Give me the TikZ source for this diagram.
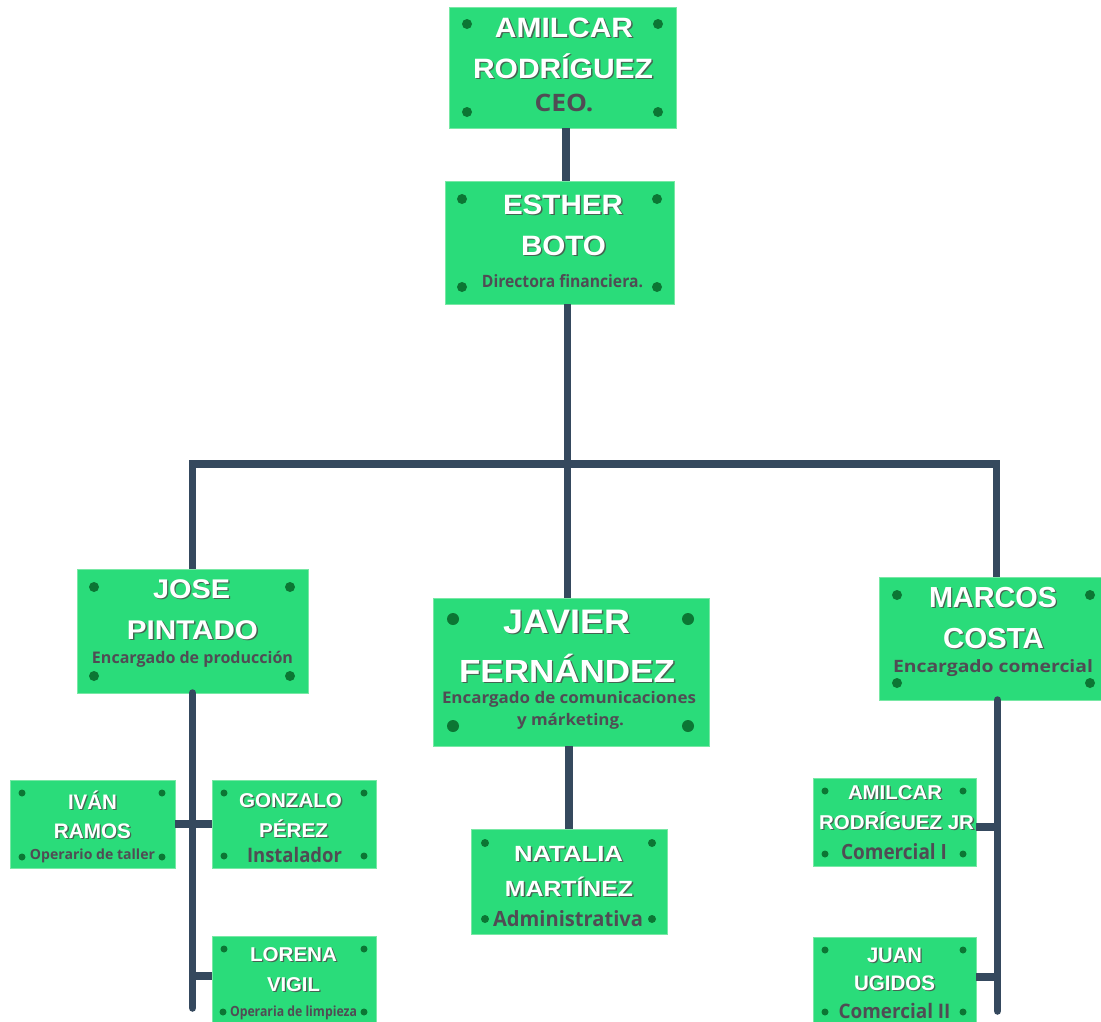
\documentclass[tikz,border=0pt]{standalone}
\usepackage{fontspec}
\usepackage{graphicx}
\newfontfamily\namefont{Liberation Sans}
\newfontfamily\subfont{Open Sans}
\definecolor{cardfill}{RGB}{42,220,122}
\definecolor{cardedge}{RGB}{120,232,165}
\definecolor{dotc}{RGB}{12,118,52}
\definecolor{subc}{RGB}{80,76,84}
\definecolor{shadowc}{RGB}{70,100,82}
\definecolor{connc}{RGB}{53,73,94}
\newcommand\txtshadow[1]{\rlap{\kern1.3pt\raisebox{-1.3pt}{\textcolor{shadowc}{#1}}}#1}
% name line: node name, x, baseline y, font size, width, text
\newcommand\nameline[6]{\node[namet, font=\namefont\bfseries\fontsize{#4}{#4}\selectfont] (#1) at (#2,#3) {\resizebox{#5pt}{\height}{\txtshadow{#6}}};}
\newcommand\subline[6]{\node[subt, font=\subfont\bfseries\fontsize{#4}{#4}\selectfont] (#1) at (#2,#3) {\resizebox{#5pt}{\height}{#6}};}
\newcommand\card[5]{\node[card, minimum width=#4pt, minimum height=#5pt] (#1) at (#2,#3) {};}
\newcommand\cornerdots[5]{\fill[dotc] (#1) circle (#5pt) (#2) circle (#5pt) (#3) circle (#5pt) (#4) circle (#5pt);}
\tikzset{
  card/.style={draw=cardedge, line width=1pt, fill=cardfill, anchor=north west, inner sep=0pt, outer sep=0pt},
  namet/.style={text=white, anchor=base, inner sep=0pt},
  subt/.style={text=subc, anchor=base, inner sep=0pt},
  conn/.style={draw=connc, line width=7.5pt, line join=miter}
}
\begin{document}
\begin{tikzpicture}[x=1pt,y=-1pt]
\useasboundingbox (0,0) rectangle (1101,1021);
\clip (0,0) rectangle (1101,1021);
\fill[white] (0,0) rectangle (1101,1021);

% column coordinates
\coordinate (c1) at (566,0);
\coordinate (cm) at (567.5,0);
\coordinate (bar) at (567.5,464);
\coordinate (barL) at (192.5,464);
\coordinate (barR) at (996.5,464);
\coordinate (jl) at (192.5,0);
\coordinate (jend) at (192.5,1008);
\coordinate (cj) at (569,0);
\coordinate (mr) at (997.5,0);
\coordinate (mend) at (997.5,1011);
\coordinate (s1) at (0,824);
\coordinate (s2) at (0,976);
\coordinate (s3) at (0,827);
\coordinate (s4) at (0,977);

% cards
\card{ceo}{449}{7}{227}{121}
\card{esther}{445}{181}{229}{123}
\card{jose}{77}{569}{231}{124}
\card{javier}{433}{598}{276}{148}
\card{marcos}{879}{577}{232}{123}
\card{ivan}{10}{780}{165}{88}
\card{gonzalo}{212}{780}{164}{88}
\card{lorena}{212}{936}{164}{100}
\card{natalia}{471}{829}{196}{105}
\card{jr}{813}{778}{163}{88}
\card{juan}{813}{937}{163}{100}

% connectors
\draw[conn] (ceo.south -| c1) -- (esther.north -| c1);
\draw[conn] (esther.south -| cm) -- (javier.north -| cm);
\draw[conn] (bar) -- (barL) -- (jose.north -| barL);
\draw[conn] (bar) -- (barR) -- (marcos.north -| barR);
\draw[conn, line cap=round] (jose.south -| jl) -- (jend);
\draw[conn] (ivan.east |- s1) -- (gonzalo.west |- s1);
\draw[conn] (jl |- s2) -- (lorena.west |- s2);
\draw[conn] (javier.south -| cj) -- (natalia.north -| cj);
\draw[conn, line cap=round] (marcos.south -| mr) -- (mend);
\draw[conn] (jr.east |- s3) -- (mr |- s3);
\draw[conn] (juan.east |- s4) -- (mr |- s4);

% dots
\cornerdots{467,24}{658,24}{467,112}{658,112}{5}
\cornerdots{462,199}{657,199}{462,287}{657,287}{5}
\cornerdots{94,587}{290,587}{94,676}{290,676}{5}
\cornerdots{453,619}{688,619}{453,726}{688,726}{6}
\cornerdots{897,595}{1090,595}{897,683}{1090,683}{5}
\cornerdots{22,793}{162,793}{22,857}{162,857}{3.5}
\cornerdots{224,793}{364,793}{224,856}{364,856}{3.5}
\cornerdots{224,949}{364,949}{223,1012}{364,1012}{3.5}
\cornerdots{485,843}{652,843}{485,919}{652,919}{4}
\cornerdots{825,791}{963,791}{825,854}{963,854}{3.5}
\cornerdots{825,950}{963,950}{825,1012}{963,1012}{3.5}

% texts
\nameline{ceoA}{564}{37}{28}{138}{AMILCAR}
\nameline{ceoB}{563}{78}{28}{180}{RODRÍGUEZ}
\subline{ceoC}{564}{111}{24}{59}{CEO.}

\nameline{estA}{563}{214}{28}{120}{ESTHER}
\nameline{estB}{563.5}{255}{28}{85}{BOTO}
\subline{estC}{562.5}{287}{17}{161}{Directora financiera.}

\nameline{joseA}{191.5}{598}{27}{77}{JOSE}
\nameline{joseB}{192.5}{639}{27}{131}{PINTADO}
\subline{joseC}{192.5}{663}{16}{201}{Encargado de producción}

\nameline{javA}{566.5}{633}{34}{127}{JAVIER}
\nameline{javB}{567}{682}{32}{216}{FERNÁNDEZ}
\subline{javC}{569}{703}{16}{254}{Encargado de comunicaciones}
\subline{javD}{570.5}{725}{16}{107}{y márketing.}

\nameline{marA}{993}{607}{29}{128}{MARCOS}
\nameline{marB}{993.5}{648}{29}{101}{COSTA}
\subline{marC}{993}{672}{17}{200}{Encargado comercial}

\nameline{ivaA}{92.5}{809}{21}{49}{IVÁN}
\nameline{ivaB}{92.5}{838}{21}{77}{RAMOS}
\subline{ivaC}{92.5}{859}{14}{125}{Operario de taller}

\nameline{gonA}{290.5}{807}{20}{103}{GONZALO}
\nameline{gonB}{293.5}{837}{20}{69}{PÉREZ}
\subline{gonC}{294.5}{862}{20}{95}{Instalador}

\nameline{lorA}{293.5}{961}{20}{87}{LORENA}
\nameline{lorB}{293.5}{991}{20}{53}{VIGIL}
\subline{lorC}{293.5}{1016}{14}{127}{Operaria de limpieza}

\nameline{natA}{568.5}{861}{22}{109}{NATALIA}
\nameline{natB}{569}{896}{22}{128}{MARTÍNEZ}
\subline{natC}{568}{926}{21}{150}{Administrativa}

\nameline{jrA}{895}{799}{20}{94}{AMILCAR}
\nameline{jrB}{896.5}{829}{20}{155}{RODRÍGUEZ JR}
\subline{jrC}{894}{859}{21}{106}{Comercial I}

\nameline{juaA}{894.5}{962}{21}{55}{JUAN}
\nameline{juaB}{894.5}{990}{21}{81}{UGIDOS}
\subline{juaC}{894.5}{1018}{20}{112}{Comercial II}
\end{tikzpicture}
\end{document}
